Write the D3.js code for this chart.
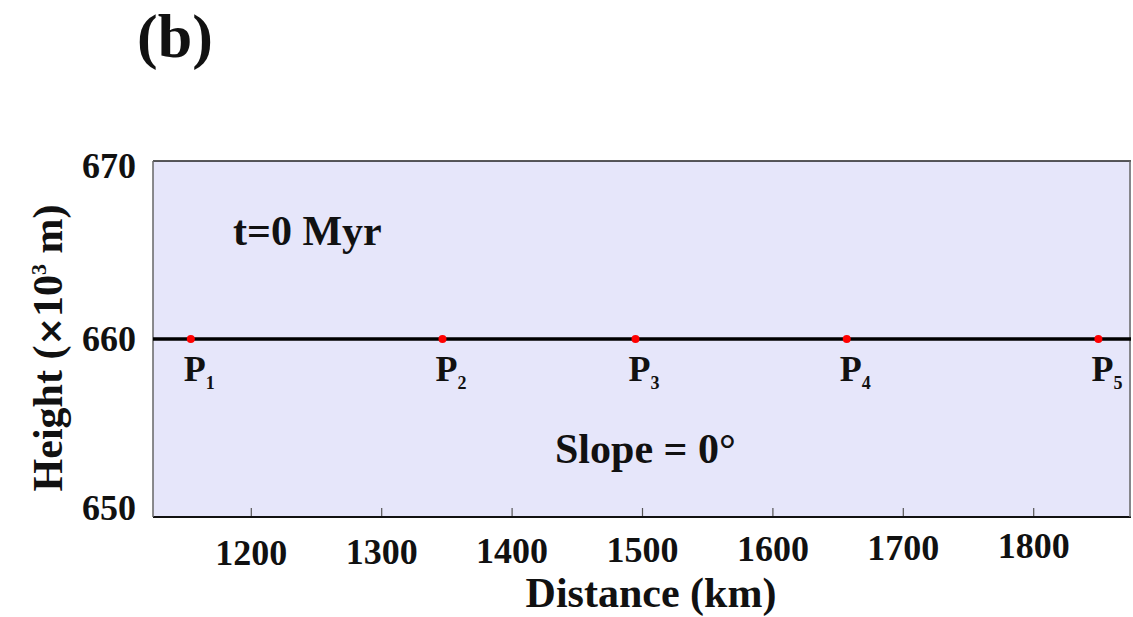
<!DOCTYPE html>
<html>
<head>
<meta charset="utf-8">
<script src="https://cdn.jsdelivr.net/npm/d3@7"></script>
<style>
  html, body { margin: 0; padding: 0; background: #fff; }
  svg { display: block; }
  text { font-family: "Liberation Serif", "Times New Roman", serif; font-weight: bold; fill: #111; }
</style>
</head>
<body>
<svg id="chart" width="1133" height="617"></svg>
<script>
// Surface profile at t = 0 (flat, zero slope)
const profileDistance = [1125, 1875];
const profileHeight = [660, 660];

// Marker points along the profile
const pointNames = ["1", "2", "3", "4", "5"];
const pointDistance = [1154, 1347, 1495, 1657, 1850];
const pointHeight = [660, 660, 660, 660, 660];

// Axis ticks
const xTicks = [1200, 1300, 1400, 1500, 1600, 1700, 1800];
const yTicks = [650, 660, 670];

const svg = d3.select("#chart");
const m = { left: 153, right: 1131, top: 161, bottom: 517 };

const x = d3.scaleLinear().domain([1125, 1875]).range([m.left, m.right]);
const y = d3.scaleLinear().domain([650, 670]).range([m.bottom, m.top]);

// Panel label
svg.append("text").attr("x", 137).attr("y", 57)
  .style("font-size", "62px").text("(b)");

// Plot background
svg.append("rect")
  .attr("x", m.left).attr("y", m.top)
  .attr("width", m.right - m.left).attr("height", m.bottom - m.top)
  .attr("fill", "#E6E6FA");

// Bottom axis: inward ticks, labels below
const xAxis = svg.append("g").attr("transform", `translate(0,${m.bottom})`)
  .call(d3.axisBottom(x).tickValues(xTicks).tickSize(-9).tickPadding(0).tickFormat(d3.format("d")));
xAxis.select(".domain").remove();
xAxis.selectAll(".tick line").attr("stroke", "#555").attr("stroke-width", 1.2);
xAxis.selectAll(".tick text")
  .attr("y", 0)
  .attr("dy", (d, i) => 48 - i * 1.1)
  .style("font-size", "36px")
  .style("font-family", "'Liberation Serif', serif")
  .style("font-weight", "bold")
  .attr("fill", "#111");

// Left axis: labels only
const yAxis = svg.append("g").attr("transform", `translate(${m.left},0)`)
  .call(d3.axisLeft(y).tickValues(yTicks).tickSize(0).tickPadding(17).tickFormat(d3.format("d")));
yAxis.select(".domain").remove();
yAxis.selectAll(".tick text")
  .attr("dy", "0.32em")
  .style("font-size", "36px")
  .style("font-family", "'Liberation Serif', serif")
  .style("font-weight", "bold")
  .attr("fill", "#111");
yAxis.selectAll(".tick").filter(d => d === 670).select("text").attr("dy", "0.45em");
yAxis.selectAll(".tick").filter(d => d === 650).select("text").attr("dy", "0.08em");

// Frame
const frame = svg.append("g");
frame.append("line").attr("x1", m.left).attr("x2", m.right).attr("y1", m.top).attr("y2", m.top)
  .attr("stroke", "#222").attr("stroke-width", 1.5);
frame.append("line").attr("x1", m.left).attr("x2", m.right).attr("y1", m.bottom).attr("y2", m.bottom)
  .attr("stroke", "#111").attr("stroke-width", 2);
frame.append("line").attr("x1", m.left).attr("x2", m.left).attr("y1", m.top).attr("y2", m.bottom)
  .attr("stroke", "#666").attr("stroke-width", 1.5);
frame.append("line").attr("x1", m.right - 1).attr("x2", m.right - 1).attr("y1", m.top).attr("y2", m.bottom)
  .attr("stroke", "#666").attr("stroke-width", 1.5);

// Profile line
const line = d3.line().x(d => x(d[0])).y(d => y(d[1]));
svg.append("path")
  .datum(profileDistance.map((d, i) => [d, profileHeight[i]]))
  .attr("d", line)
  .attr("fill", "none").attr("stroke", "#000").attr("stroke-width", 3.6);

// Marker points and their labels
const pts = pointDistance.map((d, i) => ({ name: pointNames[i], d, h: pointHeight[i] }));
svg.selectAll("circle.pt").data(pts).join("circle")
  .attr("class", "pt")
  .attr("cx", p => x(p.d)).attr("cy", p => y(p.h)).attr("r", 4)
  .attr("fill", "#FF0000");

const lbl = svg.selectAll("text.pl").data(pts).join("text")
  .attr("class", "pl")
  .attr("x", p => x(p.d) - 7).attr("y", p => y(p.h) + 42)
  .style("font-size", "36px");
lbl.append("tspan").text("P");
lbl.append("tspan").attr("dy", 8).style("font-size", "18px").text(p => p.name);

// Annotations
svg.append("text").attr("x", 233).attr("y", 245).style("font-size", "42px").text("t=0 Myr");
svg.append("text").attr("x", 555).attr("y", 463).style("font-size", "42px").text("Slope = 0°");

// Axis titles
svg.append("text").attr("x", 651).attr("y", 607).attr("text-anchor", "middle")
  .style("font-size", "42px").text("Distance (km)");

const yt = svg.append("text")
  .attr("transform", "translate(62,348) rotate(-90)")
  .attr("text-anchor", "middle")
  .style("font-size", "42px");
yt.append("tspan").text("Height (");
yt.append("tspan").style("font-family", "'DejaVu Sans', sans-serif").style("font-size", "34px").text("×");
yt.append("tspan").text("10");
yt.append("tspan").attr("dy", -16).style("font-size", "22px").text("3");
yt.append("tspan").attr("dy", 16).text(" m)");
</script>
</body>
</html>
